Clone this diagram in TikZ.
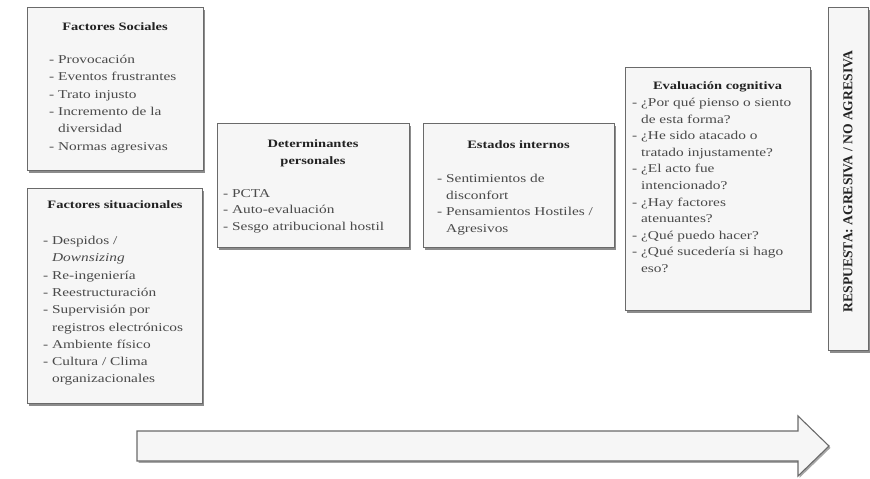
\documentclass[tikz,border=0pt]{standalone}
\usepackage{fontspec}
\setmainfont{Liberation Serif}[FakeStretch=1.28]
\newfontfamily\rotfont{Liberation Serif}
\usetikzlibrary{shadows}
\definecolor{boxfill}{HTML}{F6F6F6}
\definecolor{boxline}{HTML}{6A6A6A}
\definecolor{txt}{HTML}{4A4A4A}
\definecolor{ttltxt}{HTML}{222222}
\begin{document}
\begin{tikzpicture}[x=1pt,y=-1pt,
  panel/.style={draw=boxline, line width=1.1pt, fill=boxfill, anchor=north west, inner sep=0pt,
    drop shadow={shadow xshift=1.8pt, shadow yshift=-2.2pt, fill=black, opacity=.45}},
  ttl/.style={font=\fontsize{11.3}{17}\selectfont\bfseries, text=ttltxt, align=center, inner sep=0pt},
  lst/.style={font=\fontsize{12}{17.3}\selectfont, text=txt, align=left, anchor=north west, inner sep=0pt},
  lstb/.style={lst, font=\fontsize{12}{16.6}\selectfont},
  bigarrow/.style={draw=boxline, line width=1.1pt, fill=boxfill, line join=miter,
    drop shadow={shadow xshift=1.5pt, shadow yshift=-1.8pt, fill=black, opacity=.35}}
]
\useasboundingbox (0,0) rectangle (870,479);

% panels
\node[panel, minimum width=176pt, minimum height=163pt] (soc) at (27,7) {};
\node[panel, minimum width=175pt, minimum height=215pt] (sit) at (27,188) {};
\node[panel, minimum width=192pt, minimum height=124pt] (det) at (217,123) {};
\node[panel, minimum width=191pt, minimum height=124pt] (est) at (423,123) {};
\node[panel, minimum width=185pt, minimum height=243pt] (eva) at (625,67) {};
\node[panel, minimum width=40pt, minimum height=343pt] (resp) at (828,7) {};

% Factores Sociales
\node[ttl] (socT) at (115,27) {Factores Sociales};
\node[lst] (socL) at (49,55) {- Provocación\\- Eventos frustrantes\\- Trato injusto\\- Incremento de la\\\hphantom{- }diversidad\\- Normas agresivas};

% Factores situacionales
\node[ttl] (sitT) at (115,205) {Factores situacionales};
\node[lst] (sitL) at (43,236) {- Despidos /\\\hphantom{- }\textit{Downsizing}\\- Re-ingeniería\\- Reestructuración\\- Supervisión por\\\hphantom{- }registros electrónicos\\- Ambiente físico\\- Cultura / Clima\\\hphantom{- }organizacionales};

% Determinantes personales
\node[ttl] (detT) at (313,153.5) {Determinantes\\personales};
\node[lstb] (detL) at (223,189) {- PCTA\\- Auto-evaluación\\- Sesgo atribucional hostil};

% Estados internos
\node[ttl] (estT) at (518.5,145) {Estados internos};
\node[lstb] (estL) at (437,174) {- Sentimientos de\\\hphantom{- }disconfort\\- Pensamientos Hostiles /\\\hphantom{- }Agresivos};

% Evaluacion cognitiva
\node[ttl] (evaT) at (717.5,87) {Evaluación cognitiva};
\node[lstb] (evaL) at (632,98) {- ¿Por qué pienso o siento\\\hphantom{- }de esta forma?\\- ¿He sido atacado o\\\hphantom{- }tratado injustamente?\\- ¿El acto fue\\\hphantom{- }intencionado?\\- ¿Hay factores\\\hphantom{- }atenuantes?\\- ¿Qué puedo hacer?\\- ¿Qué sucedería si hago\\\hphantom{- }eso?};

% Respuesta
\node[rotate=90, font=\rotfont\fontsize{13.6}{15}\selectfont\bfseries, text=ttltxt, inner sep=0pt] (respT) at (848,181.5) {RESPUESTA: AGRESIVA / NO AGRESIVA};

% big arrow
\draw[bigarrow] (137,431) -- (798,431) -- (798,416) -- (829,446) -- (798,476) -- (798,461) -- (137,461) -- cycle;
\end{tikzpicture}
\end{document}
